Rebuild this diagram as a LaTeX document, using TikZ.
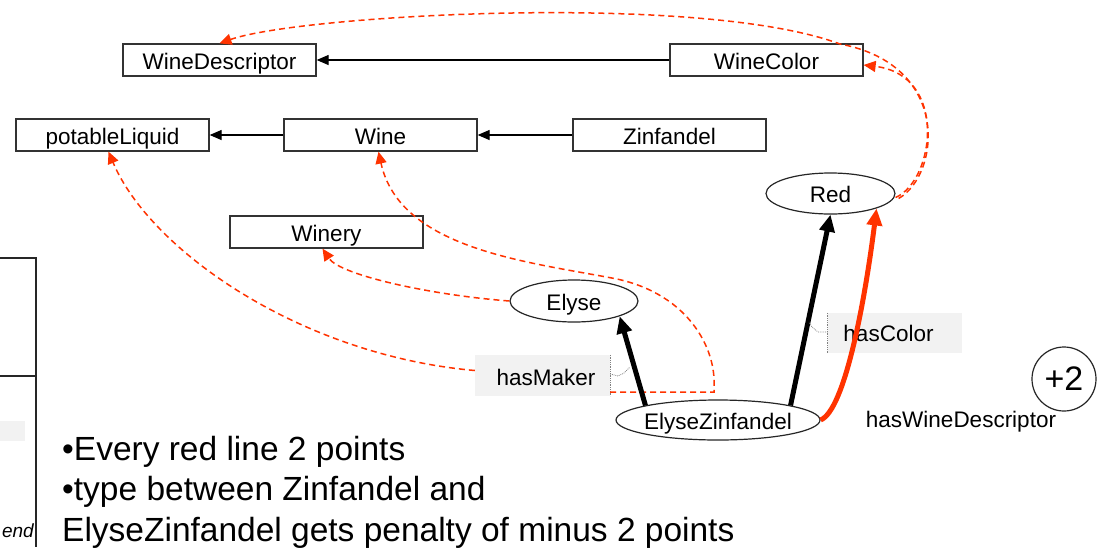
\documentclass[tikz,border=0pt]{standalone}
\usepackage{fontspec}
\setmainfont{Liberation Sans}
\usetikzlibrary{shapes.geometric,arrows.meta}
\definecolor{rdash}{RGB}{255,51,0}
\definecolor{boxgray}{RGB}{242,242,242}
\tikzset{
  cbox/.style={draw=black!80, line width=1.3pt, minimum width=193pt, minimum height=32pt, inner sep=0pt, text height=22pt, text depth=4pt, font=\fontsize{22.5}{27}\selectfont},
  ell/.style={draw=black!85, line width=1.2pt, ellipse, inner sep=0pt},
  lbl/.style={font=\fontsize{22.5}{27}\selectfont, inner sep=0pt, text height=22pt, text depth=4pt},
  thinarrow/.style={line width=1.3pt, -{Triangle[length=12pt,width=10pt]}},
  thickarrow/.style={line width=5pt, -{Triangle[length=17pt,width=15pt]}},
  redthick/.style={rdash, line width=5pt, -{Triangle[length=17pt,width=15pt]}},
  reddash/.style={rdash, line width=1.5pt, dash pattern=on 6pt off 4pt, -{Triangle[length=12pt,width=11pt]}},
  propbox/.style={fill=boxgray, inner sep=0pt, font=\fontsize{22.5}{27}\selectfont},
  squig/.style={gray, line width=0.8pt, densely dotted},
  bullet/.style={font=\fontsize{33.5}{40}\selectfont, anchor=base west, inner sep=0pt}
}
\begin{document}
\begin{tikzpicture}[x=1pt,y=-1pt]
\useasboundingbox[fill=white] (0,0) rectangle (1112,547);

% partial legend box at the left edge
\draw[line width=1.2pt, black!85] (0,258) -- (36,258) -- (36,547);
\draw[line width=1.2pt, black!85] (0,376) -- (36,376);
\fill[boxgray] (0,421) rectangle (25,441);
\node[font=\fontsize{19}{22}\selectfont\itshape, anchor=base east, inner sep=0pt] (legend) at (34,537) {end};

% class boxes
\node[cbox] (wd) at (219.5,60) {WineDescriptor};
\node[cbox] (wc) at (766.5,60) {WineColor};
\node[cbox] (pl) at (112.5,135) {potableLiquid};
\node[cbox] (wine) at (380.5,135) {Wine};
\node[cbox] (zin) at (669.5,135) {Zinfandel};
\node[cbox] (wy) at (326.5,232) {Winery};

% instances
\node[ell, minimum width=129pt, minimum height=41pt, label={[lbl]center:Red}] (red) at (830.5,193.5) {};
\node[ell, minimum width=128pt, minimum height=42pt, label={[lbl]center:Elyse}] (el) at (574,301) {};
\node[ell, minimum width=204pt, minimum height=40pt, label={[lbl]center:ElyseZinfandel}] (ez) at (718,420) {};

% subclass arrows
\draw[thinarrow] (wc.west) -- (wd.east);
\draw[thinarrow] (wine.west) -- (pl.east);
\draw[thinarrow] (zin.west) -- (wine.east);

% red dashed curves
\draw[reddash] ([yshift=-4pt]red.east) .. controls (935,180) and (948,75) .. ([yshift=-5pt]wc.east);
\draw[reddash] ([xshift=3pt,yshift=-5pt]red.east) .. controls (940,175) and (952,65) .. (840,44)
   .. controls (700,-8) and (300,15) .. (wd.north);
\draw[reddash] (el.west) .. controls (430,295) and (340,275) .. ([xshift=-4pt]wy.south);

% property boxes
\node[propbox, minimum width=135pt, minimum height=41pt] (hm) at (542.5,375.5) {};
\node[lbl, anchor=base] (hmt) at (546,385) {hasMaker};
\node[propbox, minimum width=134pt, minimum height=40pt] (hc) at (895,333) {};
\node[lbl, anchor=base] (hct) at (888.5,341.5) {hasColor};
\draw[squig] (hm.north east) -- (hm.south east);
\draw[squig] (hc.north west) -- (hc.south west);

\draw[reddash] ([yshift=5pt]hm.west) .. controls (300,355) and (150,250) .. ([xshift=-4pt]pl.south);
\draw[reddash] ([yshift=-16.5pt]hm.east) -- (714,392) -- (714,386)
   .. controls (716,350) and (690,295) .. (617,279)
   .. controls (530,262) and (400,250) .. ([xshift=-2pt]wine.south);

% property arrows
\draw[thickarrow] (ez.north west) -- (el.south east);
\draw[thickarrow] (ez.north east) -- (red.south);
\draw[redthick] (ez.east) .. controls (845,410) and (865,300) .. (red.south east);

% label leader squiggles
\coordinate (hmend) at (630,367);
\coordinate (hcend) at (809,322);
\draw[squig] ([yshift=1.5pt]hm.east) -- (618,376) -- (624,373) -- (hmend);
\draw[squig] ([yshift=1pt]hc.west) -- (818,332) -- (812,327) -- (hcend);

% score
\node[circle, draw=black!85, line width=1.2pt, minimum size=64pt, inner sep=0pt, font=\fontsize{34}{40}\selectfont] (p2) at (1064,379) {+2};
\node[lbl, anchor=base] (hwd) at (961,427) {hasWineDescriptor};

% bullet text
\node[bullet] (b1) at (62,460) {•Every red line 2 points};
\node[bullet] (b2) at (62,500) {•type between Zinfandel and};
\node[bullet] (b3) at (62,541) {ElyseZinfandel gets penalty of minus 2 points};
\end{tikzpicture}
\end{document}
